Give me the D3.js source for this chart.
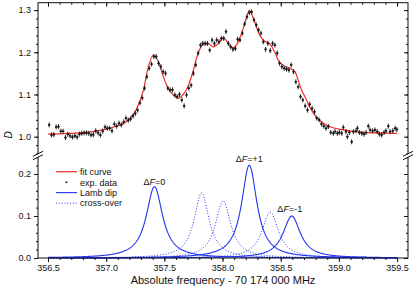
<!DOCTYPE html>
<html><head><meta charset="utf-8">
<script src="https://cdn.jsdelivr.net/npm/d3@7"></script>
<style>
body{margin:0;background:#fff}
svg{display:block}
text{font-family:"Liberation Sans",Arial,Helvetica,sans-serif;fill:#111}
</style>
</head><body>
<svg id="chart" width="415" height="290"></svg>
<script>
// ---------------- data ----------------
const xTicks = [356.5, 357.0, 357.5, 358.0, 358.5, 359.0, 359.5];
const yTopTicks = [1.0, 1.1, 1.2, 1.3];
const yBotTicks = [0.0, 0.1, 0.2];
const xTitle = "Absolute frequency - 70 174 000 MHz";
const yTitle = "D";
const legendLabels = ["fit curve", "exp. data", "Lamb dip", "cross-over"];

// Lamb dips (solid) : ΔF=0, ΔF=+1, ΔF=-1
const lambNames = ["0", "+1", "-1"];
const lambCenters = [357.415, 358.23, 358.595];
const lambAmps = [0.170, 0.221, 0.100];
const lambHWHM = [0.085, 0.080, 0.090];
// cross-over resonances (dotted)
const crossCenters = [357.82, 358.005, 358.41];
const crossAmps = [0.155, 0.136, 0.110];
const crossHWHM = [0.078, 0.080, 0.085];

// fit curve
const fitFreq = [356.50, 356.80, 357.00, 357.10, 357.15, 357.20, 357.26, 357.32, 357.36, 357.405, 357.45, 357.49, 357.53, 357.58, 357.62, 357.66, 357.71, 357.75, 357.78, 357.81, 357.84, 357.88, 357.92, 357.96, 358.01, 358.05, 358.09, 358.12, 358.165, 358.195, 358.23, 358.265, 358.31, 358.35, 358.41, 358.45, 358.48, 358.51, 358.55, 358.595, 358.625, 358.65, 358.68, 358.71, 358.75, 358.80, 358.85, 358.92, 359.04, 359.18, 359.33, 359.50];
const fitD = [1.006, 1.0095, 1.018, 1.026, 1.032, 1.042, 1.065, 1.11, 1.163, 1.193, 1.177, 1.143, 1.116, 1.098, 1.091, 1.099, 1.124, 1.158, 1.189, 1.21, 1.22, 1.22, 1.213, 1.22, 1.234, 1.22, 1.21, 1.217, 1.246, 1.272, 1.299, 1.281, 1.246, 1.229, 1.219, 1.20, 1.18, 1.172, 1.165, 1.16, 1.153, 1.134, 1.11, 1.094, 1.07, 1.049, 1.035, 1.024, 1.016, 1.011, 1.009, 1.008];

// experimental points
const expFreq = [356.51, 356.53, 356.55, 356.57, 356.59, 356.61, 356.63, 356.65, 356.67, 356.69, 356.71, 356.73, 356.75, 356.77, 356.79, 356.81, 356.83, 356.85, 356.87, 356.89, 356.91, 356.93, 356.95, 356.97, 356.99, 357.01, 357.03, 357.05, 357.07, 357.09, 357.11, 357.13, 357.15, 357.17, 357.19, 357.21, 357.23, 357.25, 357.27, 357.29, 357.31, 357.33, 357.35, 357.37, 357.39, 357.41, 357.43, 357.45, 357.47, 357.49, 357.51, 357.53, 357.55, 357.57, 357.59, 357.61, 357.63, 357.65, 357.67, 357.69, 357.71, 357.73, 357.75, 357.77, 357.79, 357.81, 357.83, 357.85, 357.87, 357.89, 357.91, 357.93, 357.95, 357.97, 357.99, 358.01, 358.03, 358.05, 358.07, 358.09, 358.11, 358.13, 358.15, 358.17, 358.19, 358.21, 358.23, 358.25, 358.27, 358.29, 358.31, 358.33, 358.35, 358.37, 358.39, 358.41, 358.43, 358.45, 358.47, 358.49, 358.51, 358.53, 358.55, 358.57, 358.59, 358.61, 358.63, 358.65, 358.67, 358.69, 358.71, 358.73, 358.75, 358.77, 358.79, 358.81, 358.83, 358.85, 358.87, 358.89, 358.91, 358.930, 358.952, 358.967, 358.987, 359.004, 359.025, 359.038, 359.061, 359.073, 359.090, 359.110, 359.124, 359.147, 359.159, 359.176, 359.197, 359.216, 359.234, 359.253, 359.268, 359.290, 359.310, 359.330, 359.348, 359.368, 359.388, 359.405, 359.425, 359.440, 359.463, 359.483, 359.498];
const expD = [1.028, 1.004, 1.005, 1.023, 1.024, 1.013, 1.013, 0.998, 1.006, 1.002, 0.999, 1.002, 0.999, 1.006, 1.008, 1.009, 1.009, 1.008, 1.004, 1.005, 1.014, 1.009, 1.004, 1.013, 1.023, 1.020, 1.020, 1.014, 1.030, 1.025, 1.032, 1.028, 1.035, 1.044, 1.039, 1.042, 1.049, 1.055, 1.063, 1.080, 1.092, 1.115, 1.142, 1.162, 1.172, 1.190, 1.190, 1.174, 1.166, 1.154, 1.150, 1.115, 1.111, 1.111, 1.099, 1.095, 1.100, 1.087, 1.073, 1.099, 1.115, 1.122, 1.150, 1.170, 1.198, 1.217, 1.221, 1.221, 1.221, 1.205, 1.229, 1.221, 1.229, 1.225, 1.233, 1.233, 1.249, 1.221, 1.213, 1.207, 1.209, 1.231, 1.229, 1.245, 1.267, 1.284, 1.294, 1.296, 1.277, 1.265, 1.253, 1.245, 1.225, 1.207, 1.221, 1.204, 1.221, 1.217, 1.198, 1.174, 1.166, 1.162, 1.160, 1.158, 1.170, 1.154, 1.130, 1.118, 1.095, 1.087, 1.073, 1.063, 1.077, 1.067, 1.059, 1.044, 1.040, 1.030, 1.025, 1.020, 1.024, 1.010, 1.008, 1.012, 1.008, 1.010, 1.008, 1.022, 1.012, 1.000, 1.010, 0.988, 1.012, 1.014, 1.020, 1.010, 1.008, 1.006, 1.010, 1.025, 1.016, 1.014, 1.016, 1.012, 1.006, 1.004, 1.010, 1.014, 1.025, 1.012, 1.014, 1.020, 1.017];
const expErr = 0.006;

// ---------------- drawing ----------------
const svg = d3.select("#chart");
const L = 38, R = 408, T = 2.7, B = 258, BRK = 156.5;
const RED = "#f52a2a", BLUE = "#2233f2";

const x = d3.scaleLinear().domain([356.414, 359.594]).range([L, R]);
const yTop = d3.scaleLinear().domain([1.0, 1.3]).range([136.7, 10.1]);
const yBot = d3.scaleLinear().domain([0.0, 0.2]).range([B, 174]);

const lor = (f, c, a, g) => a * g * g / ((f - c) * (f - c) + g * g);
const grid = d3.range(0, 601).map(i => 356.5 + i * 0.005);

// clip paths
svg.append("clipPath").attr("id", "clipTop").append("rect")
  .attr("x", L).attr("y", T).attr("width", R - L).attr("height", BRK - T);
svg.append("clipPath").attr("id", "clipBot").append("rect")
  .attr("x", L).attr("y", BRK).attr("width", R - L).attr("height", B - BRK + 1);

// ----- lower panel curves -----
const botG = svg.append("g").attr("clip-path", "url(#clipBot)");
const lineBot = d3.line().x(d => x(d[0])).y(d => yBot(d[1]));
crossCenters.forEach((c, i) => {
  botG.append("path")
    .attr("d", lineBot(grid.map(f => [f, lor(f, c, crossAmps[i], crossHWHM[i])])))
    .attr("fill", "none").attr("stroke", BLUE).attr("stroke-width", 1)
    .attr("stroke-dasharray", "1,1.8");
});
lambCenters.forEach((c, i) => {
  botG.append("path")
    .attr("d", lineBot(grid.map(f => [f, lor(f, c, lambAmps[i], lambHWHM[i])])))
    .attr("fill", "none").attr("stroke", BLUE).attr("stroke-width", 1.1);
});

// ----- upper panel -----
const topG = svg.append("g").attr("clip-path", "url(#clipTop)");
const fitLine = d3.line().x((d, i) => x(fitFreq[i])).y(d => yTop(d)).curve(d3.curveMonotoneX);
topG.append("path").attr("d", fitLine(fitD))
  .attr("fill", "none").attr("stroke", RED).attr("stroke-width", 1.2);

const pts = topG.append("g");
expFreq.forEach((f, i) => {
  const cx = x(f), cy = yTop(expD[i]);
  pts.append("line").attr("x1", cx).attr("x2", cx)
    .attr("y1", yTop(expD[i] - expErr)).attr("y2", yTop(expD[i] + expErr))
    .attr("stroke", "#111").attr("stroke-width", 0.9);
  pts.append("rect").attr("x", cx - 1.2).attr("y", cy - 0.8)
    .attr("width", 2.4).attr("height", 1.6).attr("fill", "#111");
});

// ----- frame and axes -----
const frame = svg.append("g").attr("stroke", "#111").attr("stroke-width", 1).attr("fill", "none");
frame.append("rect").attr("x", L).attr("y", T).attr("width", R - L).attr("height", B - T);

function styleAxis(g) {
  g.select(".domain").remove();
  g.selectAll(".tick line").attr("stroke", "#111");
  g.selectAll(".tick text").attr("font-size", 9).attr("fill", "#111")
    .style("font-family", '"Liberation Sans",Arial,sans-serif');
}
const xMinor = d3.range(0, 31).map(i => 356.5 + i * 0.1);

// bottom axis (outward)
svg.append("g").attr("transform", `translate(0,${B})`)
  .call(d3.axisBottom(x).tickValues(xMinor).tickSize(2).tickFormat(""))
  .call(styleAxis);
svg.append("g").attr("transform", `translate(0,${B})`)
  .call(d3.axisBottom(x).tickValues(xTicks).tickSize(4).tickPadding(3).tickFormat(d3.format(".1f")))
  .call(styleAxis);
// top axis (inward)
svg.append("g").attr("transform", `translate(0,${T})`)
  .call(d3.axisBottom(x).tickValues(xMinor).tickSize(2).tickFormat(""))
  .call(styleAxis);
svg.append("g").attr("transform", `translate(0,${T})`)
  .call(d3.axisBottom(x).tickValues(xTicks).tickSize(4).tickFormat(""))
  .call(styleAxis);

const topMinor = d3.range(0, 18).map(i => 0.96 + i * 0.02);
const botMinor = d3.range(0, 13).map(i => i * 0.02);
// left axes (outward) & right axes (inward)
[[L, ""], [R, "r"]].forEach(([xp, side]) => {
  [[yTop, topMinor, yTopTicks], [yBot, botMinor, yBotTicks]].forEach(([sc, mn, mj]) => {
    svg.append("g").attr("transform", `translate(${xp},0)`)
      .call(d3.axisLeft(sc).tickValues(mn).tickSize(2).tickFormat(""))
      .call(styleAxis);
    svg.append("g").attr("transform", `translate(${xp},0)`)
      .call(d3.axisLeft(sc).tickValues(mj).tickSize(4).tickPadding(3)
        .tickFormat(side ? "" : d3.format(".1f")))
      .call(styleAxis);
  });
});

// axis breaks
[L, R].forEach(xp => {
  svg.append("polygon")
    .attr("points", `${xp-5},${BRK+3} ${xp+5},${BRK-2} ${xp+5},${BRK-5} ${xp-5},${BRK}`)
    .attr("fill", "#fff");
  svg.append("line").attr("x1", xp - 5).attr("y1", BRK + 3.2).attr("x2", xp + 5).attr("y2", BRK - 1.8)
    .attr("stroke", "#111").attr("stroke-width", 1);
  svg.append("line").attr("x1", xp - 5).attr("y1", BRK - 0.2).attr("x2", xp + 5).attr("y2", BRK - 5.2)
    .attr("stroke", "#111").attr("stroke-width", 1);
});

// titles
svg.append("text").attr("x", (L + R) / 2).attr("y", 284).attr("text-anchor", "middle")
  .attr("font-size", 11).text(xTitle);
svg.append("text").attr("transform", "translate(12,135) rotate(-90)").attr("text-anchor", "middle")
  .attr("font-size", 10).attr("font-style", "italic").text(yTitle);

// peak labels
const labelPos = [[357.43, 0.182], [358.24, 0.236], [358.58, 0.116]];
lambNames.forEach((n, i) => {
  const t = svg.append("text").attr("x", x(lambCenters[i]) + (i === 2 ? -2 : 0))
    .attr("y", yBot(labelPos[i][1]) + 3).attr("text-anchor", "middle").attr("font-size", 9);
  t.append("tspan").text("Δ");
  t.append("tspan").attr("font-style", "italic").text("F");
  t.append("tspan").text("=" + n);
});

// legend
const lg = svg.append("g");
const ly = [171.7, 182.3, 192.6, 203.2];
legendLabels.forEach((lab, i) => {
  if (i === 0) lg.append("line").attr("x1", 56).attr("x2", 77).attr("y1", ly[i]).attr("y2", ly[i]).attr("stroke", RED).attr("stroke-width", 1.2);
  if (i === 1) lg.append("rect").attr("x", 65.5).attr("y", ly[i] - 0.8).attr("width", 1.8).attr("height", 1.6).attr("fill", "#111");
  if (i === 2) lg.append("line").attr("x1", 56).attr("x2", 77).attr("y1", ly[i]).attr("y2", ly[i]).attr("stroke", BLUE).attr("stroke-width", 1.1);
  if (i === 3) lg.append("line").attr("x1", 56).attr("x2", 77).attr("y1", ly[i]).attr("y2", ly[i]).attr("stroke", BLUE).attr("stroke-width", 1).attr("stroke-dasharray", "1,1.8");
  lg.append("text").attr("x", 80).attr("y", ly[i] + 3.2).attr("font-size", 9).text(lab);
});
</script>
</body></html>
